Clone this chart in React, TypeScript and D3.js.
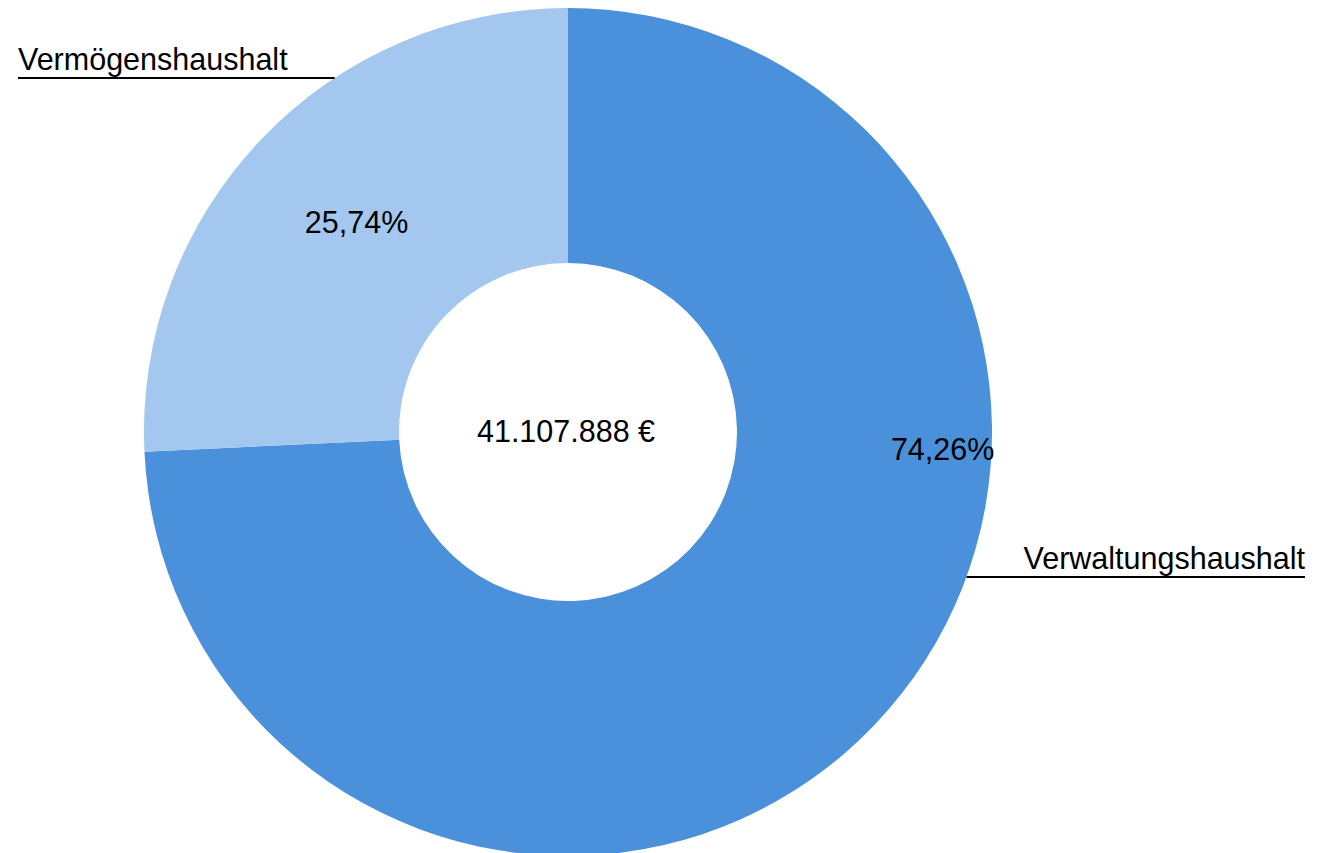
import React, { useEffect, useRef } from 'react';
import * as d3 from 'd3';

const categories = ['Verwaltungshaushalt', 'Vermögenshaushalt'];
const shares = [74.26, 25.74];
const shareLabels = ['74,26%', '25,74%'];
const colors = ['#4A90DB', '#A3C7EE'];
const totalLabel = '41.107.888 €';

const App = () => {
  const ref = useRef<SVGSVGElement | null>(null);

  useEffect(() => {
    const svg = d3.select(ref.current);
    svg.selectAll('*').remove();

    const width = 1317;
    const height = 853;
    const cx = 568;
    const cy = 432;
    const outer = 424;
    const inner = 169;
    const font = 'Liberation Sans, Arial, sans-serif';
    const fontSize = '30.5px';

    const g = svg.append('g').attr('transform', `translate(${cx},${cy})`);

    const pie = d3.pie<number>().sort(null).value(d => d);
    const arcs = pie(shares);
    const arc = d3.arc<d3.PieArcDatum<number>>().innerRadius(inner).outerRadius(outer);

    g.selectAll('path.slice')
      .data(arcs)
      .join('path')
      .attr('class', 'slice')
      .attr('d', arc)
      .attr('fill', (d, i) => colors[i]);

    // percentage labels: small slice near centroid, big slice pushed towards the right edge
    const labelPos = (d: d3.PieArcDatum<number>, i: number) => {
      if (i === 0) {
        const a = (92.6 * Math.PI) / 180;
        const rr = 375;
        return [Math.sin(a) * rr, -Math.cos(a) * rr];
      }
      const c = arc.centroid(d);
      return [c[0] + 3, c[1] - 5];
    };

    g.selectAll('text.pct')
      .data(arcs)
      .join('text')
      .attr('class', 'pct')
      .attr('x', (d, i) => labelPos(d, i)[0])
      .attr('y', (d, i) => labelPos(d, i)[1])
      .attr('dy', '0.35em')
      .attr('text-anchor', 'middle')
      .style('font-family', font)
      .style('font-size', fontSize)
      .attr('fill', '#000')
      .text((d, i) => shareLabels[i]);

    g.append('text')
      .attr('x', -2)
      .attr('y', -1)
      .attr('dy', '0.35em')
      .attr('text-anchor', 'middle')
      .style('font-family', font)
      .style('font-size', fontSize)
      .attr('fill', '#000')
      .text(totalLabel);

    // category labels with horizontal leader lines to the outer edge
    const legend = [
      { name: categories[1], lineY: 78, side: 'left', textX: 18 },
      { name: categories[0], lineY: 577, side: 'right', textX: 1305 },
    ];
    legend.forEach(l => {
      const dy = l.lineY - cy;
      const dx = Math.sqrt(outer * outer - dy * dy);
      const edgeX = l.side === 'left' ? cx - dx : cx + dx;
      svg.append('line')
        .attr('x1', l.side === 'left' ? l.textX : edgeX)
        .attr('x2', l.side === 'left' ? edgeX : l.textX)
        .attr('y1', l.lineY)
        .attr('y2', l.lineY)
        .attr('stroke', '#000')
        .attr('stroke-width', 2);
      svg.append('text')
        .attr('x', l.textX)
        .attr('y', l.lineY - 8)
        .attr('text-anchor', l.side === 'left' ? 'start' : 'end')
        .style('font-family', font)
        .style('font-size', fontSize)
        .attr('fill', '#000')
        .text(l.name);
    });

    svg.attr('width', width).attr('height', height);
  }, []);

  return (
    <svg
      ref={ref}
      width={1317}
      height={853}
      style={{ position: 'absolute', left: 0, top: 0, background: '#fff' }}
    />
  );
};

export default App;
